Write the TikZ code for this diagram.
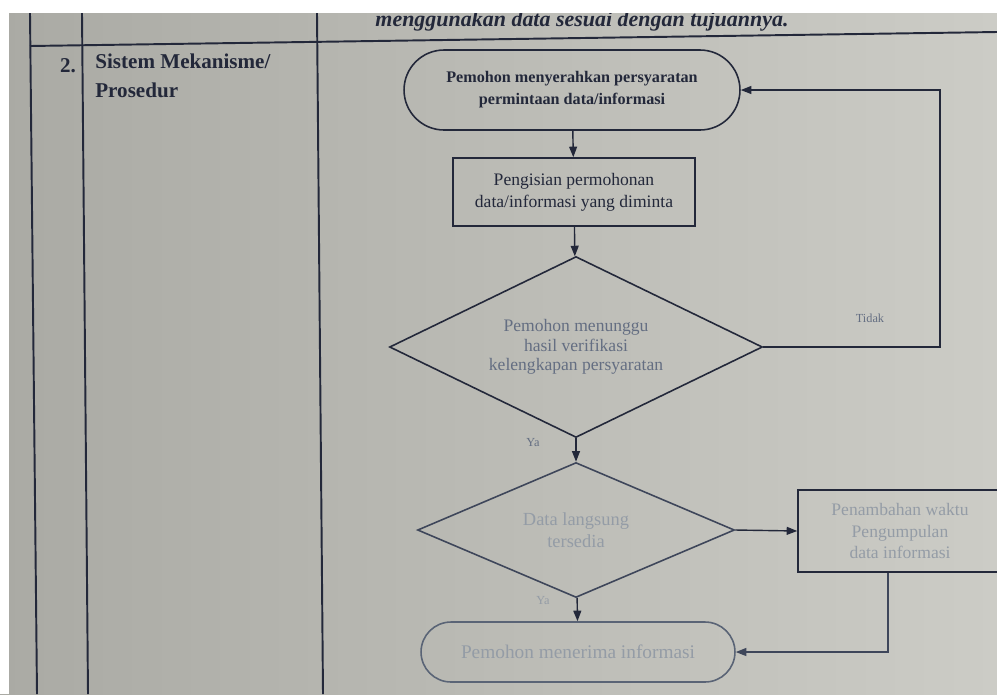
\documentclass[tikz,border=0pt]{standalone}
\usepackage{fontspec}
\setmainfont{Liberation Serif}
\usetikzlibrary{shapes.geometric,shapes.misc,arrows.meta,positioning}
\definecolor{ink}{RGB}{35,40,58}
\definecolor{inkmid}{RGB}{62,70,90}
\definecolor{inkfade}{RGB}{90,100,118}
\definecolor{txtsoft}{RGB}{100,110,130}
\definecolor{txtfade}{RGB}{148,156,166}
\definecolor{paperL}{RGB}{170,170,164}
\definecolor{paperR}{RGB}{204,204,198}
\tikzset{
  termbox/.style={draw=ink,rounded rectangle,line width=0.9pt,inner sep=0pt,align=center},
  procbox/.style={draw=ink,rectangle,line width=0.9pt,inner sep=0pt,align=center},
  decbox/.style={draw=ink,diamond,line width=0.9pt,inner sep=0pt,align=center},
  flow/.style={draw=ink,line width=0.8pt,-{Triangle[length=6pt,width=4.5pt]}},
  lbl/.style={font=\fontsize{7}{8}\selectfont,text=txtsoft},
  rule/.style={draw=ink,line width=1.1pt},
}

\begin{document}
\begin{tikzpicture}[x=0.02cm,y=-0.02cm]
  \useasboundingbox (0,0) rectangle (997,694);
  \clip (0,0) rectangle (997,694);
  \shade[left color=paperL,right color=paperR] (0,0) rectangle (997,694);
  \draw[rule] (30,13) -- (37,694);
  \draw[rule] (82,13) -- (88,694);
  \draw[rule] (317,13) -- (323,694);
  \draw[rule] (30,46) -- (997,32);
  \node[font=\bfseries\itshape\fontsize{12.5}{14}\selectfont,text=ink] (note) at (582,21) {menggunakan data sesuai dengan tujuannya.};
  \fill[white] (0,0) rectangle (997,13);
  \fill[white] (0,0) rectangle (9,694);
  \node[font=\bfseries\fontsize{12}{16}\selectfont,text=ink] (num) at (68,66) {2.};
  \node[anchor=north west,align=left,inner sep=0pt,font=\bfseries\fontsize{12}{16}\selectfont,text=ink] (item) at (95,54) {Sistem Mekanisme/\\Prosedur};
  \node[termbox,minimum width=6.72cm,minimum height=1.6cm,font=\bfseries\fontsize{9.2}{12.5}\selectfont,text=ink] (start) at (572,90) {Pemohon menyerahkan persyaratan\\permintaan data/informasi};
  \node[procbox,minimum width=4.84cm,minimum height=1.36cm,font=\fontsize{10}{12.5}\selectfont,text=ink] (fill) at (574,192) {Pengisian permohonan\\data/informasi yang diminta};
  \node[decbox,aspect=2.06,minimum width=7.46cm,minimum height=3.62cm,font=\fontsize{10}{11}\selectfont,text=txtsoft] (check) at (576,347) {Pemohon menunggu\\hasil verifikasi\\kelengkapan persyaratan};
  \node[decbox,aspect=2.35,draw=inkmid,minimum width=6.34cm,minimum height=2.7cm,font=\fontsize{10.5}{12.5}\selectfont,text=txtfade] (ready) at (576,530) {Data langsung\\tersedia};
  \node[procbox,minimum width=4.08cm,minimum height=1.64cm,font=\fontsize{10}{12.5}\selectfont,text=txtfade] (extra) at (900,531) {Penambahan waktu\\Pengumpulan\\data informasi};
  \node[termbox,draw=inkfade,minimum width=6.28cm,minimum height=1.2cm,font=\fontsize{11}{13}\selectfont,text=txtfade] (done) at (578,652) {Pemohon menerima informasi};
  \coordinate (back) at (940,200);
  \coordinate (join) at (888,645);
  \draw[flow] (start) -- (fill);
  \draw[flow] (fill) -- (check);
  \draw[flow] (check) -- (ready);
  \draw[flow] (ready) -- (done);
  \draw[flow] (ready.east) -- (extra.west);
  \draw[flow] (check.east) -| (back) |- (start.east);
  \draw[flow,draw=inkmid] (extra.south -| join) |- (done.east);
  \node[lbl] (no) at (870,318) {Tidak};
  \node[lbl] (yes) at (533,443) {Ya};
  \node[lbl,text=txtfade] (yes2) at (543,601) {Ya};
\end{tikzpicture}
\end{document}
